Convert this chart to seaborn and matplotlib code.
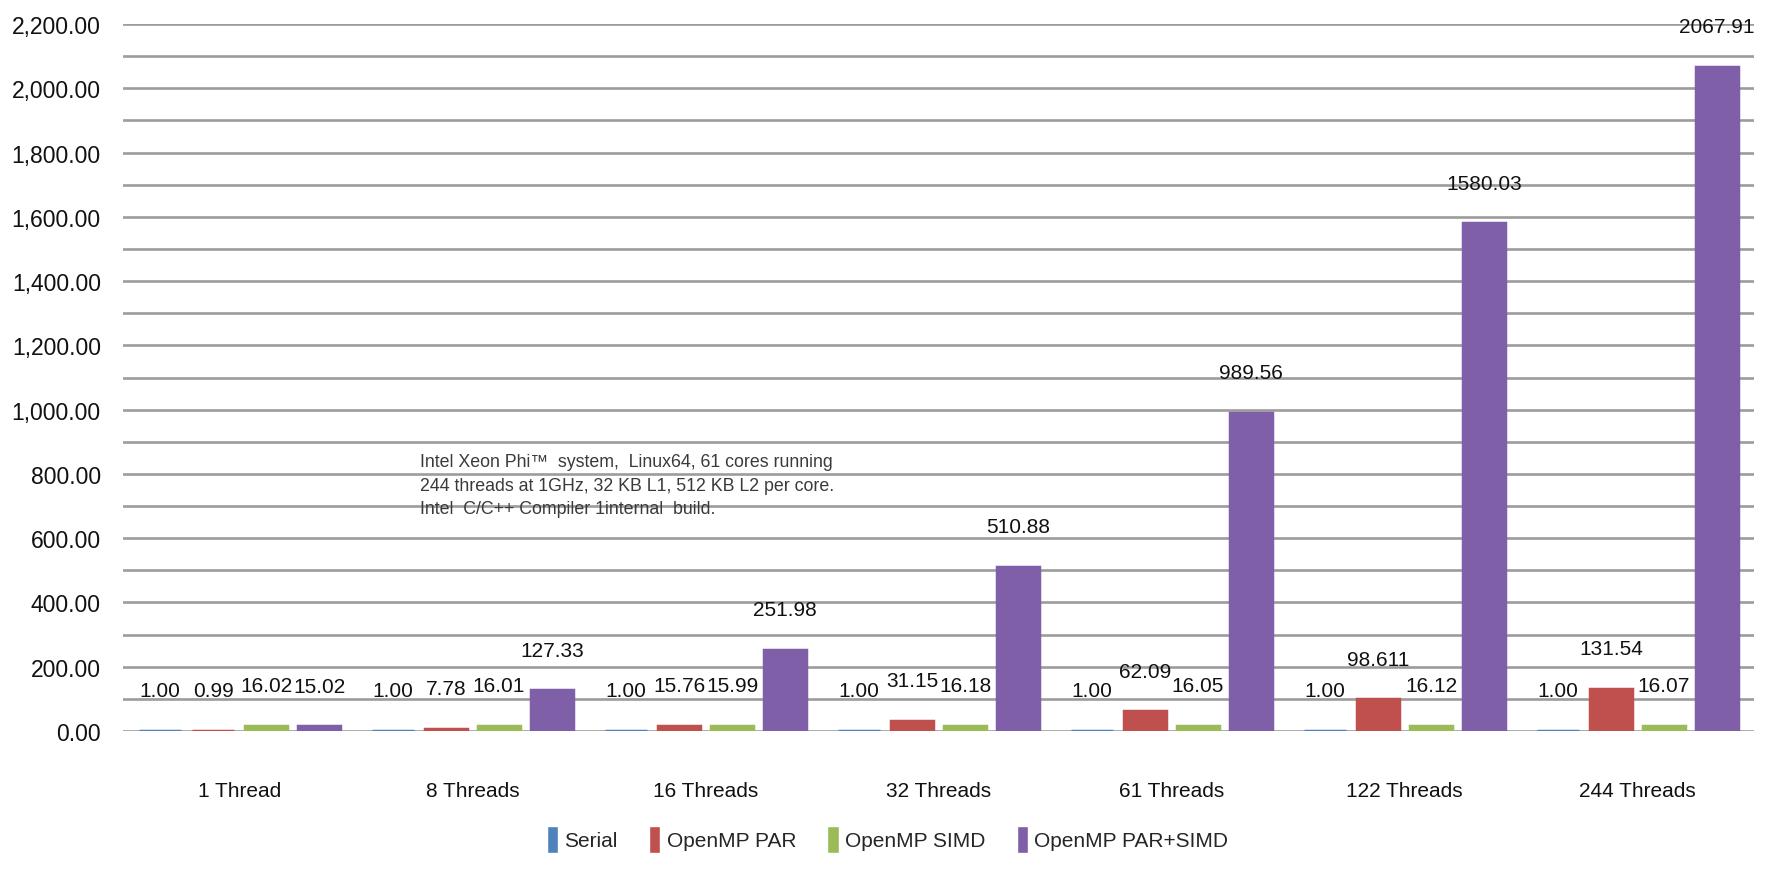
import matplotlib
matplotlib.use("Agg")
import matplotlib.pyplot as plt
import matplotlib.ticker as mticker
import pandas as pd
import seaborn as sns

# Speedup data per thread count
categories = ["1 Thread", "8 Threads", "16 Threads", "32 Threads",
              "61 Threads", "122 Threads", "244 Threads"]
series_names = ["Serial", "OpenMP PAR", "OpenMP SIMD", "OpenMP PAR+SIMD"]
serial = [1.00, 1.00, 1.00, 1.00, 1.00, 1.00, 1.00]
omp_par = [0.99, 7.78, 15.76, 31.15, 62.09, 98.611, 131.54]
omp_simd = [16.02, 16.01, 15.99, 16.18, 16.05, 16.12, 16.07]
omp_par_simd = [15.02, 127.33, 251.98, 510.88, 989.56, 1580.03, 2067.91]
y_ticks = list(range(0, 2201, 200))

colors = ["#4F81BD", "#C0504D", "#9BBB59", "#7F5FA8"]
note = ("Intel Xeon Phi\u2122  system,  Linux64, 61 cores running\n"
        "244 threads at 1GHz, 32 KB L1, 512 KB L2 per core.\n"
        "Intel  C/C++ Compiler 1internal  build.")

sns.set_theme(style="white")
plt.rcParams["font.family"] = ["Liberation Sans Narrow", "Liberation Sans", "DejaVu Sans"]
FS = 15

rows = []
for name, vals in zip(series_names, [serial, omp_par, omp_simd, omp_par_simd]):
    for cat, v in zip(categories, vals):
        rows.append({"cat": cat, "series": name, "value": v})
df = pd.DataFrame(rows)

fig = plt.figure(figsize=(17.68, 8.7), dpi=100)
ax = fig.add_axes([0.0696, 0.1586, 0.9225, 0.8126])

sns.barplot(data=df, x="cat", y="value", hue="series", order=categories,
            hue_order=series_names, palette=colors, width=0.91, gap=0.2,
            saturation=1, ax=ax, legend=True)

# edge in the bar colour so near-zero bars stay visible
for cont, col in zip(ax.containers, colors):
    for bar in cont:
        bar.set_edgecolor(col)
        bar.set_linewidth(2.5)


def fmt(v):
    return f"{v:.2f}" if round(v, 2) == v else str(v)


for cont, name in zip(ax.containers, series_names):
    vals = df[df["series"] == name]["value"].tolist()
    ax.bar_label(cont, labels=[fmt(v) for v in vals], padding=22,
                 fontsize=FS, color="#111111")

ax.set_ylim(0, 2200)
ax.set_xlim(-0.5, len(categories) - 0.5)
ax.set_yticks(y_ticks)
ax.yaxis.set_minor_locator(mticker.MultipleLocator(100))
ax.yaxis.set_major_formatter(mticker.FuncFormatter(lambda v, p: f"{v:,.2f}"))
ax.grid(True, axis="y", which="both", color="#9C9C9C", linewidth=1.9)
ax.set_axisbelow(True)
for s in ax.spines.values():
    s.set_visible(False)
ax.tick_params(axis="y", which="both", length=0, pad=16, labelsize=16.5, labelcolor="#111111")
ax.tick_params(axis="x", length=0, pad=36, labelsize=FS, labelcolor="#111111")
ax.set_xlabel("")
ax.set_ylabel("")

ax.text(0.775, 865, note, fontsize=12.8, color="#3a3a3a", va="top", ha="left",
        linespacing=1.5, family=["Liberation Sans", "DejaVu Sans"])

handles, labels = ax.get_legend_handles_labels()
ax.get_legend().remove()
fig.legend(handles, labels, loc="center", bbox_to_anchor=(0.502, 0.034), ncol=4,
           frameon=False, fontsize=FS, handlelength=0.55, handleheight=1.6,
           handletextpad=0.3, columnspacing=1.5)

fig.savefig("out.png", dpi=100)
